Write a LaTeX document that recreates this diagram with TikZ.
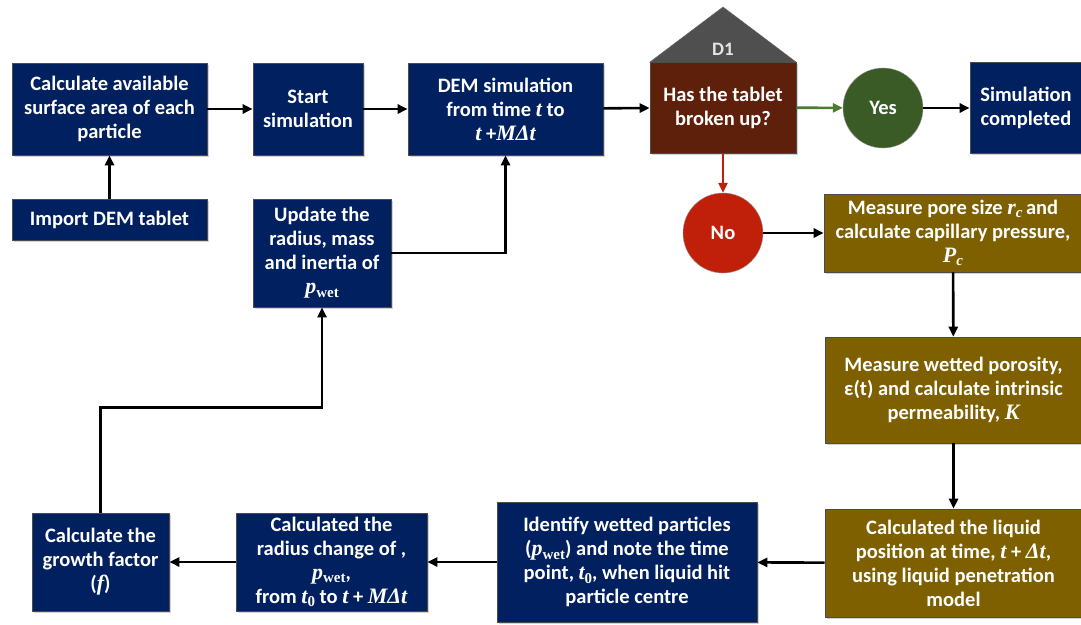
\documentclass[tikz,border=0pt]{standalone}
\usepackage{fontspec}
\setmainfont{Carlito}
\newfontfamily\cmb{Liberation Serif}
\usetikzlibrary{arrows.meta,shadows}
\newcommand{\mv}[1]{{\cmb\bfseries\itshape\fontsize{22}{24}\selectfont #1}}
\newcommand{\sbs}[1]{\raisebox{-0.35ex}{\cmb\bfseries\fontsize{15}{15}\selectfont #1}}
\newcommand{\sbi}[1]{\raisebox{-0.35ex}{\cmb\bfseries\itshape\fontsize{15}{15}\selectfont #1}}
\definecolor{navy}{HTML}{002060}
\definecolor{brownbox}{HTML}{5E1F0B}
\definecolor{roof}{HTML}{4F4F4F}
\definecolor{yesg}{HTML}{3A5A26}
\definecolor{nored}{HTML}{C0200A}
\definecolor{gold}{HTML}{7F6000}
\definecolor{arrg}{HTML}{4E7A32}
\tikzset{
  box/.style={draw=black!70, line width=0.6pt, text=white, align=center,
    font=\bfseries\fontsize{20.5}{24}\selectfont, inner sep=0pt,
    drop shadow={shadow xshift=1.5pt, shadow yshift=-1.5pt, opacity=0.35}},
  navybox/.style={box, fill=navy},
  goldbox/.style={box, fill=gold},
  circ/.style={circle, minimum size=80pt, inner sep=0pt, text=white,
    font=\bfseries\fontsize{20.5}{24}\selectfont, draw=black!40, line width=0.4pt},
  arr/.style={-{Triangle[length=10pt,width=9pt]}, line width=2.6pt},
}
\begin{document}
\begin{tikzpicture}[x=1pt,y=-1pt]
\useasboundingbox (0,0) rectangle (1081,624);
% nodes
\node[navybox, minimum width=195pt, minimum height=92pt] (calc) at (109.5,109) {Calculate available\\surface area of each\\particle};
\node[navybox, minimum width=195pt, minimum height=41pt] (imp) at (109.5,219.5) {Import DEM tablet};
\node[navybox, minimum width=110pt, minimum height=92pt] (start) at (308,109) {Start\\simulation};
\node[navybox, minimum width=195pt, minimum height=92pt] (dem) at (505.5,109) {DEM simulation\\from time \mv{t} to\\\mv{t} +\mv{M}\mv{Δt}};
\fill[roof, draw=black!60, line width=0.5pt] (650,62) -- (723,7) -- (796,62) -- cycle;
\node[box, fill=brownbox, minimum width=146pt, minimum height=91pt] (d1) at (723,107.5) {Has the tablet\\broken up?};
\node[text=white!90!black, font=\bfseries\fontsize{19}{20}\selectfont] (d1lab) at (723,49) {D1};
\node[circ, fill=yesg] (yes) at (883,108) {Yes};
\node[navybox, minimum width=112pt, minimum height=91pt] (done) at (1026,108) {Simulation\\completed};
\node[circ, fill=nored] (no) at (723,233) {No};
\node[goldbox, minimum width=258pt, minimum height=78pt] (pore) at (953,233) {Measure pore size \mv{r}\sbi{c}\,and\\calculate capillary pressure,\\\mv{P}\sbi{c}};
\node[goldbox, minimum width=257pt, minimum height=106pt] (poros) at (953.5,390) {Measure wetted porosity,\\ε(t) and calculate intrinsic\\permeability, \mv{K}};
\node[goldbox, minimum width=257pt, minimum height=108pt] (liq) at (953.5,563) {Calculated the liquid\\position at time, \mv{t} + \mv{Δt},\\using liquid penetration\\model};
\node[navybox, minimum width=260pt, minimum height=120pt] (ident) at (627,562) {Identify wetted particles\\(\mv{p}\sbs{wet}) and note the time\\point, \mv{t}\sbs{0}, when liquid hit\\particle centre};
\node[navybox, minimum width=191pt, minimum height=98pt] (rad) at (331.5,562) {Calculated the\\radius change of ,\\\mv{p}\sbs{wet},\\from \mv{t}\sbs{0} to \mv{t} + \mv{MΔt}};
\node[navybox, minimum width=137pt, minimum height=98pt] (growth) at (100.5,562) {Calculate the\\growth factor\\(\mv{f})};
\node[navybox, minimum width=138pt, minimum height=108pt] (upd) at (322,253) {Update the\\radius, mass\\and inertia of\\\mv{p}\sbs{wet}};
% connectors
\draw[arr] (imp) -- (calc);
\draw[arr] (calc) -- (start);
\draw[arr] (start) -- (dem);
\draw[arr] (dem) -- (d1);
\draw[arr, arrg] (d1) -- (yes);
\draw[arr] (yes) -- (done);
\draw[arr, nored] (d1) -- (no);
\draw[arr] (no) -- (pore);
\draw[arr] (pore) -- (poros);
\draw[arr] (poros) -- (liq);
\draw[arr] (liq) -- (ident);
\draw[arr] (ident) -- (rad);
\draw[arr] (rad) -- (growth);
\draw[arr] (growth.north) -- ++(0,-105) -| (upd.south);
\draw[arr] (upd.east) -| (dem.south);
\end{tikzpicture}
\end{document}
